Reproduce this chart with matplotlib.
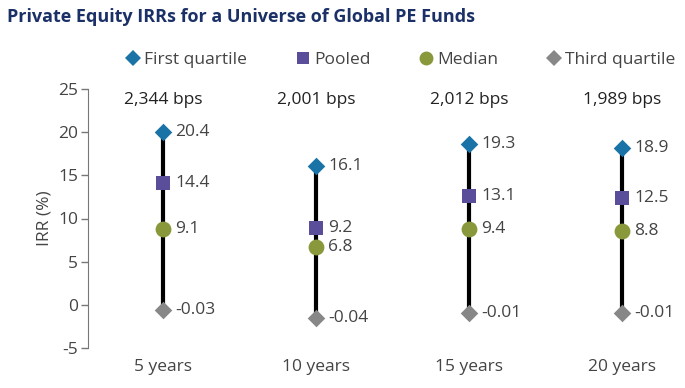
import matplotlib
matplotlib.use("Agg")
import matplotlib.pyplot as plt
from matplotlib.lines import Line2D

plt.rcParams['font.family'] = ['Open Sans', 'DejaVu Sans']

categories = ["5 years", "10 years", "15 years", "20 years"]
spread_labels = ["2,344 bps", "2,001 bps", "2,012 bps", "1,989 bps"]

# marker positions
first_quartile = [20.0, 16.1, 18.6, 18.2]
pooled = [14.1, 8.9, 12.6, 12.4]
median = [8.8, 6.7, 8.8, 8.5]
third_quartile = [-0.6, -1.5, -1.0, -1.0]

# printed value labels
first_labels = ["20.4", "16.1", "19.3", "18.9"]
pooled_labels = ["14.4", "9.2", "13.1", "12.5"]
median_labels = ["9.1", "6.8", "9.4", "8.8"]
third_labels = ["-0.03", "-0.04", "-0.01", "-0.01"]

yticks = [-5, 0, 5, 10, 15, 20, 25]

c_first = "#1a73a6"
c_pooled = "#5a4e9a"
c_median = "#88983a"
c_third = "#878787"
txt = "#444444"

fig = plt.figure(figsize=(6.85, 3.88), dpi=100)
ax = fig.add_axes([88/685, 1-348/388, (680-88)/685, (348-89)/388])

x = list(range(len(categories)))
for i in x:
    ax.plot([i, i], [third_quartile[i], first_quartile[i]], color="black", lw=3, zorder=1, solid_capstyle="butt")

ax.scatter(x, first_quartile, marker="D", s=80, color=c_first, zorder=3, linewidths=0)
ax.scatter(x, pooled, marker="s", s=110, color=c_pooled, zorder=3, linewidths=0)
ax.scatter(x, median, marker="o", s=130, color=c_median, zorder=3, linewidths=0)
ax.scatter(x, third_quartile, marker="D", s=80, color=c_third, zorder=3, linewidths=0)

for vals, labs in [(first_quartile, first_labels), (pooled, pooled_labels),
                   (median, median_labels), (third_quartile, third_labels)]:
    for i in x:
        ax.annotate(labs[i], (i, vals[i]), xytext=(9, 0), textcoords="offset points",
                    ha="left", va="center", fontsize=12.5, color=txt)

for i in x:
    ax.text(i, 1.0 - 11/259, spread_labels[i], transform=ax.get_xaxis_transform(),
            ha="center", va="center", fontsize=12.5, color="#222222", fontweight="medium")
    ax.text(i, -5.0 - 2.2, categories[i], ha="center", va="center", fontsize=12.5, color=txt)

ax.set_xlim(-0.49, 3.38)
ax.set_ylim(-5, 25)
ax.set_yticks(yticks)
ax.set_yticklabels([str(t) for t in yticks], fontsize=12.5, color=txt)
ax.set_xticks([])
for s in ["top", "right", "bottom"]:
    ax.spines[s].set_visible(False)
ax.spines["left"].set_color("#777777")
ax.tick_params(axis="y", colors="#777777", labelcolor=txt, length=5, width=1, direction="out", pad=2)
ax.set_ylabel("IRR (%)", fontsize=12.5, color=txt, labelpad=4)

fig.text(7/685, 1-17/388, "Private Equity IRRs for a Universe of Global PE Funds",
         fontsize=13, fontweight="bold", color="#1b3067", ha="left", va="center")

handles = [
    Line2D([], [], marker="D", color=c_first, ls="", markersize=8, markeredgewidth=0),
    Line2D([], [], marker="s", color=c_pooled, ls="", markersize=9, markeredgewidth=0),
    Line2D([], [], marker="o", color=c_median, ls="", markersize=10, markeredgewidth=0),
    Line2D([], [], marker="D", color=c_third, ls="", markersize=8, markeredgewidth=0),
]
leg = fig.legend(handles, ["First quartile", "Pooled", "Median", "Third quartile"],
                 loc="center", bbox_to_anchor=(399/685, 1-60/388), ncol=4, frameon=False,
                 fontsize=12.5, handletextpad=0.05, columnspacing=2.6, handlelength=1.2)
for t in leg.get_texts():
    t.set_color(txt)

fig.savefig("out.png", dpi=100)
